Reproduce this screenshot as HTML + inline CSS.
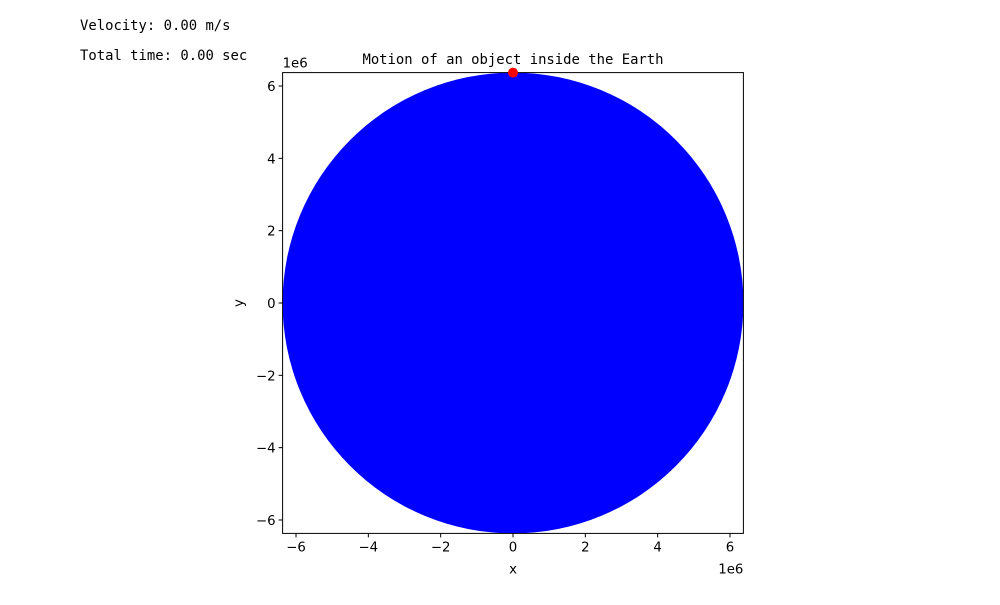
<!DOCTYPE html>
<html><head><meta charset="utf-8"><style>
body{margin:0;background:#fff;width:1000px;height:600px;overflow:hidden}
text{font-family:"DejaVu Sans","Liberation Sans",sans-serif;font-size:13.3px;fill:#000}
.mono{font-family:"DejaVu Sans Mono","Liberation Mono",monospace;font-size:13.9px}
</style></head><body>
<svg id="chart" width="1000" height="600" xmlns="http://www.w3.org/2000/svg">
<text class="mono" x="80" y="30">Velocity: 0.00 m/s</text>
<text class="mono" x="80" y="60">Total time: 0.00 sec</text>
<text class="mono" x="513" y="64" text-anchor="middle">Motion of an object inside the Earth</text>
<g id="plot"></g>
</svg>
<script>
const R = 6.371e6;
const xTicks = [-6,-4,-2,0,2,4,6];
const yTicks = [-6,-4,-2,0,2,4,6];
const objectX = [0];
const objectY = [6.371e6];
const L=282.6, Rt=743.4, T=72.6, B=533.4;
const sx = v => L + (v + R) / (2*R) * (Rt - L);
const sy = v => B - (v + R) / (2*R) * (B - T);
const NS="http://www.w3.org/2000/svg";
const g=document.getElementById('plot');
function mk(tag,attrs){const e=document.createElementNS(NS,tag);for(const k in attrs)e.setAttribute(k,attrs[k]);g.appendChild(e);return e;}
const earth=mk('circle',{cx:sx(0),cy:sy(0),r:sx(R)-sx(0),fill:'#0000ff'});


const frame=mk('rect',{x:L,y:T,width:Rt-L,height:B-T,fill:'none',stroke:'#000','stroke-width':1});


xTicks.forEach(t=>{
  const x=sx(t*1e6);
  const l=mk('line',{x1:x,x2:x,y1:B,y2:B+4,stroke:'#000'});
  
  
  const tx=mk('text',{x:x,y:B+18,'text-anchor':'middle'});
  tx.textContent=(t<0?'\u2212':'')+Math.abs(t);
  
  
});
yTicks.forEach(t=>{
  const y=sy(t*1e6);
  const l=mk('line',{x1:L-4,x2:L,y1:y,y2:y,stroke:'#000'});
  
  
  const tx=mk('text',{x:L-7,y:y+5,'text-anchor':'end'});
  tx.textContent=(t<0?'\u2212':'')+Math.abs(t);
  
  
});
objectX.forEach((v,i)=>{
  const c=mk('circle',{cx:sx(v),cy:sy(objectY[i]),r:5,fill:'#ff0000'});
  
  
});
let e;
e=mk('text',{x:513,y:B+40,'text-anchor':'middle'});e.textContent='x';


e=mk('text',{x:243,y:303,'text-anchor':'middle',transform:'rotate(-90 243 303)'});e.textContent='y';


e=mk('text',{x:Rt,y:B+40,'text-anchor':'end'});e.textContent='1e6';


e=mk('text',{x:L,y:T-5});e.textContent='1e6';


</script>
</body></html>
